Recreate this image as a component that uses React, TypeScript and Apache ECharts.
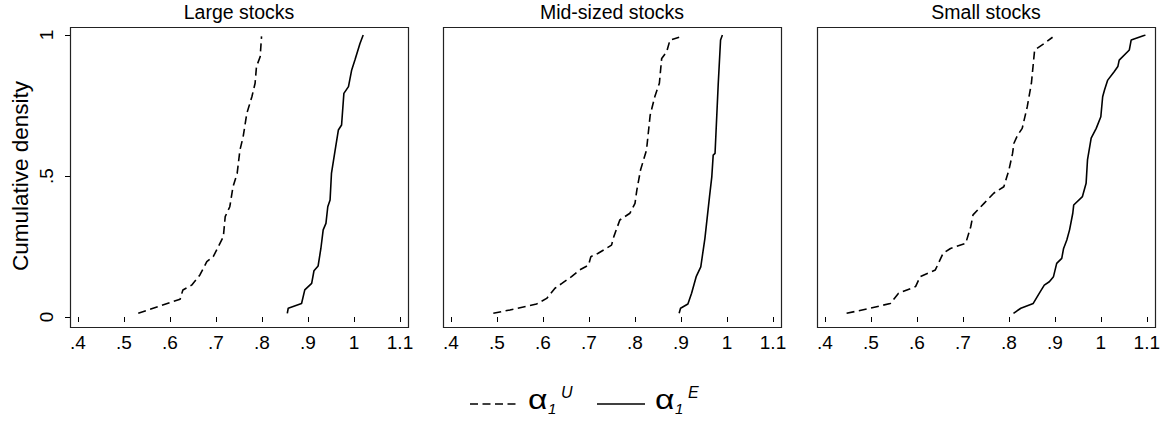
import React, { useEffect, useRef } from 'react';
import * as echarts from 'echarts';

const panelTitles = ['Large stocks', 'Mid-sized stocks', 'Small stocks'];
const xTicks = [0.4, 0.5, 0.6, 0.7, 0.8, 0.9, 1.0, 1.1];
const yTicks = [0, 0.5, 1];
const yAxisTitle = 'Cumulative density';
const legendNames = ['U', 'E'];

const largeU = [[0.531,0.013],[0.622,0.063],[0.628,0.096],[0.647,0.113],[0.665,0.149],[0.680,0.196],[0.694,0.214],[0.716,0.285],[0.720,0.356],[0.730,0.391],[0.737,0.462],[0.746,0.509],[0.752,0.592],[0.759,0.639],[0.767,0.722],[0.778,0.781],[0.785,0.829],[0.788,0.888],[0.796,0.923],[0.799,0.995]];
const largeE = [[0.855,0.013],[0.857,0.031],[0.886,0.048],[0.893,0.096],[0.908,0.119],[0.913,0.164],[0.922,0.181],[0.928,0.243],[0.933,0.309],[0.939,0.332],[0.943,0.391],[0.948,0.415],[0.951,0.509],[0.959,0.592],[0.966,0.663],[0.973,0.681],[0.978,0.793],[0.988,0.817],[0.995,0.876],[1.002,0.911],[1.013,0.970],[1.020,1.0]];
const midU = [[0.492,0.013],[0.528,0.025],[0.586,0.046],[0.608,0.066],[0.626,0.102],[0.641,0.119],[0.662,0.143],[0.680,0.167],[0.699,0.184],[0.704,0.214],[0.720,0.226],[0.749,0.255],[0.754,0.285],[0.767,0.344],[0.789,0.368],[0.800,0.403],[0.804,0.450],[0.812,0.521],[0.825,0.592],[0.833,0.716],[0.843,0.781],[0.853,0.829],[0.858,0.917],[0.869,0.941],[0.876,0.982],[0.896,0.992]];
const midE = [[0.896,0.013],[0.899,0.031],[0.915,0.046],[0.923,0.084],[0.933,0.143],[0.943,0.178],[0.952,0.279],[0.962,0.427],[0.967,0.498],[0.970,0.574],[0.974,0.580],[0.981,0.829],[0.986,0.982],[0.990,1.0]];
const smallU = [[0.447,0.013],[0.498,0.031],[0.542,0.048],[0.560,0.084],[0.597,0.108],[0.607,0.143],[0.640,0.167],[0.657,0.226],[0.673,0.243],[0.706,0.261],[0.717,0.320],[0.722,0.362],[0.746,0.403],[0.767,0.439],[0.789,0.462],[0.800,0.521],[0.808,0.580],[0.811,0.616],[0.819,0.645],[0.829,0.669],[0.840,0.746],[0.849,0.829],[0.856,0.947],[0.877,0.970],[0.895,0.992]];
const smallE = [[0.810,0.013],[0.826,0.031],[0.853,0.048],[0.866,0.084],[0.877,0.113],[0.888,0.125],[0.897,0.143],[0.904,0.190],[0.915,0.208],[0.919,0.243],[0.926,0.273],[0.932,0.309],[0.939,0.368],[0.941,0.397],[0.960,0.427],[0.968,0.474],[0.971,0.557],[0.979,0.634],[0.990,0.669],[1.000,0.710],[1.004,0.781],[1.008,0.805],[1.015,0.840],[1.029,0.870],[1.037,0.888],[1.040,0.911],[1.062,0.947],[1.066,0.982],[1.097,1.0]];

const seriesU = [largeU, midU, smallU];
const seriesE = [largeE, midE, smallE];

const FONT = 'Liberation Sans, Arial, Helvetica, sans-serif';
const panelLeft = [78, 451, 825];
const plotWidth = 322;
const plotTop = 35;
const plotHeight = 282;
const padX = 8;
const padTop = 8;
const padBottom = 10;
const DASH = [8, 4.5];

const fmtX = (v: number) => {
  const r = Math.round(v * 10) / 10;
  if (r === 1) return '1';
  if (r < 1) return '.' + Math.round(r * 10);
  return String(r);
};
const fmtY = (v: number) => {
  if (v === 0) return '0';
  if (v === 1) return '1';
  return String(v).replace(/^0/, '');
};

export default function App() {
  const ref = useRef<HTMLDivElement>(null);
  useEffect(() => {
    if (!ref.current) return;
    const chart = echarts.init(ref.current, undefined, { renderer: 'svg' });
    const grids: any[] = [];
    const xAxes: any[] = [];
    const yAxes: any[] = [];
    const series: any[] = [];
    const graphic: any[] = [];
    for (let i = 0; i < 3; i++) {
      grids.push({ left: panelLeft[i], top: plotTop, width: plotWidth, height: plotHeight });
      xAxes.push({
        type: 'value', gridIndex: i, min: xTicks[0], max: xTicks[xTicks.length - 1], interval: 0.1,
        offset: padBottom,
        axisLine: { show: false },
        axisTick: { show: true, length: 5, lineStyle: { color: '#000', width: 1 } },
        splitLine: { show: false },
        axisLabel: { margin: 6, fontSize: 19, color: '#000', fontFamily: FONT, formatter: fmtX, showMinLabel: true, showMaxLabel: true, hideOverlap: false },
      });
      yAxes.push({
        type: 'value', gridIndex: i, min: yTicks[0], max: yTicks[yTicks.length - 1], interval: 0.5,
        show: i === 0,
        offset: padX,
        axisLine: { show: false },
        axisTick: { show: true, length: 5, lineStyle: { color: '#000', width: 1 } },
        splitLine: { show: false },
        axisLabel: { rotate: 90, margin: 14, fontSize: 19, color: '#000', fontFamily: FONT, formatter: fmtY, showMinLabel: true, showMaxLabel: true },
        name: i === 0 ? yAxisTitle : '',
        nameLocation: 'middle', nameGap: 38,
        nameTextStyle: { fontSize: 22.5, color: '#000', fontFamily: FONT },
      });
      series.push({
        type: 'line', xAxisIndex: i, yAxisIndex: i, data: seriesU[i], symbol: 'none', showSymbol: false,
        lineStyle: { color: '#000', width: 1.6, type: DASH }, silent: true,
      });
      series.push({
        type: 'line', xAxisIndex: i, yAxisIndex: i, data: seriesE[i], symbol: 'none', showSymbol: false,
        lineStyle: { color: '#000', width: 1.6, type: 'solid' }, silent: true,
      });
      graphic.push({
        type: 'rect', silent: true,
        shape: { x: panelLeft[i] - padX + 0.5, y: plotTop - padTop + 0.5, width: plotWidth + 2 * padX, height: plotHeight + padTop + padBottom },
        style: { fill: 'none', stroke: '#222', lineWidth: 1.2 },
      });
      graphic.push({
        type: 'text', silent: true, x: panelLeft[i] + plotWidth / 2, y: 12,
        style: { text: panelTitles[i], fontSize: 19.5, fontFamily: FONT, fill: '#000', align: 'center', verticalAlign: 'middle' },
      });
    }
    // legend
    const legendY = 404;
    const items = [
      { lx1: 470, lx2: 517, dash: DASH, ax: 528, sx: 548, ux: 561, sup: legendNames[0] },
      { lx1: 597, lx2: 645, dash: null, ax: 655, sx: 675, ux: 688, sup: legendNames[1] },
    ];
    items.forEach((it) => {
      graphic.push({
        type: 'line', silent: true,
        shape: { x1: it.lx1, y1: legendY, x2: it.lx2, y2: legendY },
        style: { stroke: '#000', lineWidth: 1.6, lineDash: it.dash || undefined },
      });
      graphic.push({
        type: 'text', silent: true, x: it.ax, y: 399, scaleX: 1.2,
        style: { text: 'α', fontSize: 28, fontFamily: FONT, fill: '#000', align: 'left', verticalAlign: 'middle' },
      });
      graphic.push({
        type: 'text', silent: true, x: it.sx, y: 408,
        style: { text: '1', fontSize: 15, fontStyle: 'italic', fontFamily: FONT, fill: '#000', align: 'left', verticalAlign: 'middle' },
      });
      graphic.push({
        type: 'text', silent: true, x: it.ux, y: 392,
        style: { text: it.sup, fontSize: 16, fontStyle: 'italic', fontFamily: FONT, fill: '#000', align: 'left', verticalAlign: 'middle' },
      });
    });

    chart.setOption({
      animation: false,
      backgroundColor: '#fff',
      grid: grids,
      xAxis: xAxes,
      yAxis: yAxes,
      series,
      graphic,
    });
    return () => chart.dispose();
  }, []);
  return <div ref={ref} style={{ position: 'fixed', left: 0, top: 0, width: 1163, height: 428 }} />;
}
